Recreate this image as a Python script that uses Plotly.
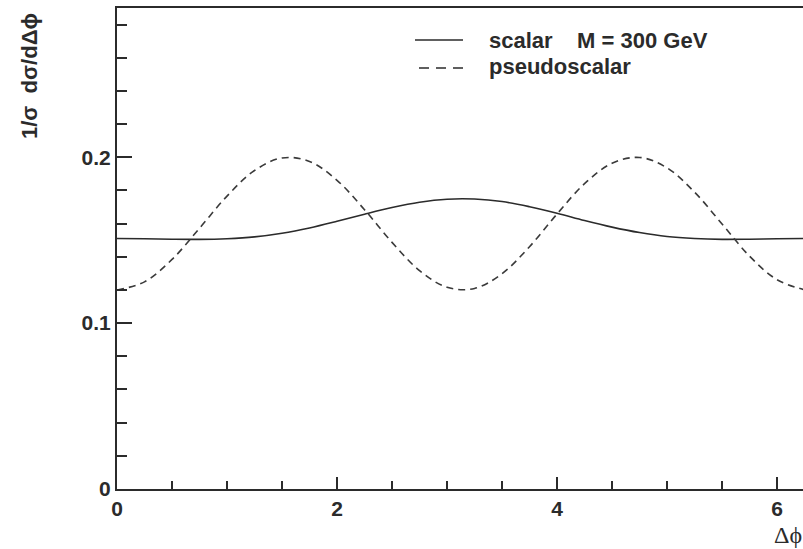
import plotly.graph_objects as go

# Δφ sample points
dphi = [0.0, 0.25, 0.5, 0.75, 1.0, 1.25, 1.5, 1.75, 2.0, 2.25, 2.5, 2.75, 3.0,
        3.25, 3.5, 3.75, 4.0, 4.25, 4.5, 4.75, 5.0, 5.25, 5.5, 5.75, 6.0, 6.25]

scalar = [0.1510, 0.1509, 0.1506, 0.1505, 0.1509, 0.1520, 0.1542, 0.1574, 0.1614,
          0.1657, 0.1697, 0.1729, 0.1747, 0.1748, 0.1733, 0.1702, 0.1663, 0.1619,
          0.1579, 0.1546, 0.1522, 0.1510, 0.1505, 0.1506, 0.1509, 0.1510]

pseudoscalar = [0.1200, 0.1249, 0.1384, 0.1572, 0.1766, 0.1920, 0.1996, 0.1975,
                0.1861, 0.1684, 0.1487, 0.1317, 0.1216, 0.1209, 0.1298, 0.1461,
                0.1658, 0.1841, 0.1964, 0.1999, 0.1936, 0.1790, 0.1598, 0.1404,
                0.1262, 0.1201]

x_ticks = [0, 2, 4, 6]
y_ticks = [0, 0.1, 0.2]
y_tick_labels = ["0", "0.1", "0.2"]

legend_labels = ["scalar    M = 300 GeV", "pseudoscalar"]

INK = "#2b2b2b"
FONT = "Liberation Sans, Arial, sans-serif"

fig = go.Figure()
fig.add_trace(go.Scatter(x=dphi, y=scalar, mode="lines", line_shape="spline",
                         line=dict(color=INK, width=1.6), name=legend_labels[0],
                         showlegend=False))
fig.add_trace(go.Scatter(x=dphi, y=pseudoscalar, mode="lines", line_shape="spline",
                         line=dict(color="#3a3a3a", width=1.6, dash="7px,5px"),
                         name=legend_labels[1], showlegend=False))

W, H = 803, 549
L, T, B, R = 117, 8, 60, 0
pw, ph = W - L - R, H - T - B

def px_x(p):
    return (p - L) / pw

def px_y(p):
    return (H - B - p) / ph

# legend (drawn manually)
fig.add_shape(type="line", xref="paper", yref="paper",
              x0=px_x(415), x1=px_x(463), y0=px_y(40), y1=px_y(40),
              line=dict(color=INK, width=1.6))
fig.add_shape(type="line", xref="paper", yref="paper",
              x0=px_x(419), x1=px_x(463), y0=px_y(68), y1=px_y(68),
              line=dict(color=INK, width=1.6, dash="10px,7px"))
fig.add_annotation(xref="paper", yref="paper", x=px_x(487), y=px_y(40),
                   xanchor="left", yanchor="middle", showarrow=False,
                   text="<b>" + legend_labels[0].replace(" ", "&nbsp;") + "</b>",
                   font=dict(family=FONT, size=22, color=INK))
fig.add_annotation(xref="paper", yref="paper", x=px_x(487), y=px_y(67),
                   xanchor="left", yanchor="middle", showarrow=False,
                   text="<b>" + legend_labels[1] + "</b>",
                   font=dict(family=FONT, size=22, color=INK))

# axis titles
fig.add_annotation(xref="paper", yref="paper", x=px_x(30), y=px_y(11),
                   xanchor="center", yanchor="top", showarrow=False, textangle=-90,
                   text="<b>1/σ&nbsp;&nbsp;dσ/dΔϕ</b>",
                   font=dict(family=FONT, size=22, color=INK))
fig.add_annotation(xref="paper", yref="paper", x=px_x(804), y=px_y(535),
                   xanchor="right", yanchor="middle", showarrow=False,
                   text="Δϕ",
                   font=dict(family="Liberation Serif, Times New Roman, serif", size=24, color=INK))

axis_common = dict(showgrid=False, zeroline=False, showline=True, linecolor=INK,
                   linewidth=2, ticks="inside", tickcolor=INK, tickwidth=2,
                   tickfont=dict(family=FONT, size=21, color=INK))

fig.update_xaxes(range=[0, 6.236], tickvals=x_ticks, ticktext=["<b>%d</b>" % v for v in x_ticks],
                 ticklen=12, mirror=True,
                 minor=dict(dtick=0.5, tick0=0, ticks="inside", ticklen=8,
                            tickcolor=INK, tickwidth=2),
                 **axis_common)
fig.update_yaxes(range=[0, 0.29], tickvals=y_ticks,
                 ticktext=["<b>%s</b>" % s for s in y_tick_labels],
                 ticklen=15,
                 minor=dict(dtick=0.02, tick0=0, ticks="inside", ticklen=10,
                            tickcolor=INK, tickwidth=2),
                 **axis_common)

fig.update_layout(width=W, height=H, margin=dict(l=L, r=R, t=T, b=B),
                  paper_bgcolor="white", plot_bgcolor="white", showlegend=False)

fig.write_html("out.html")
